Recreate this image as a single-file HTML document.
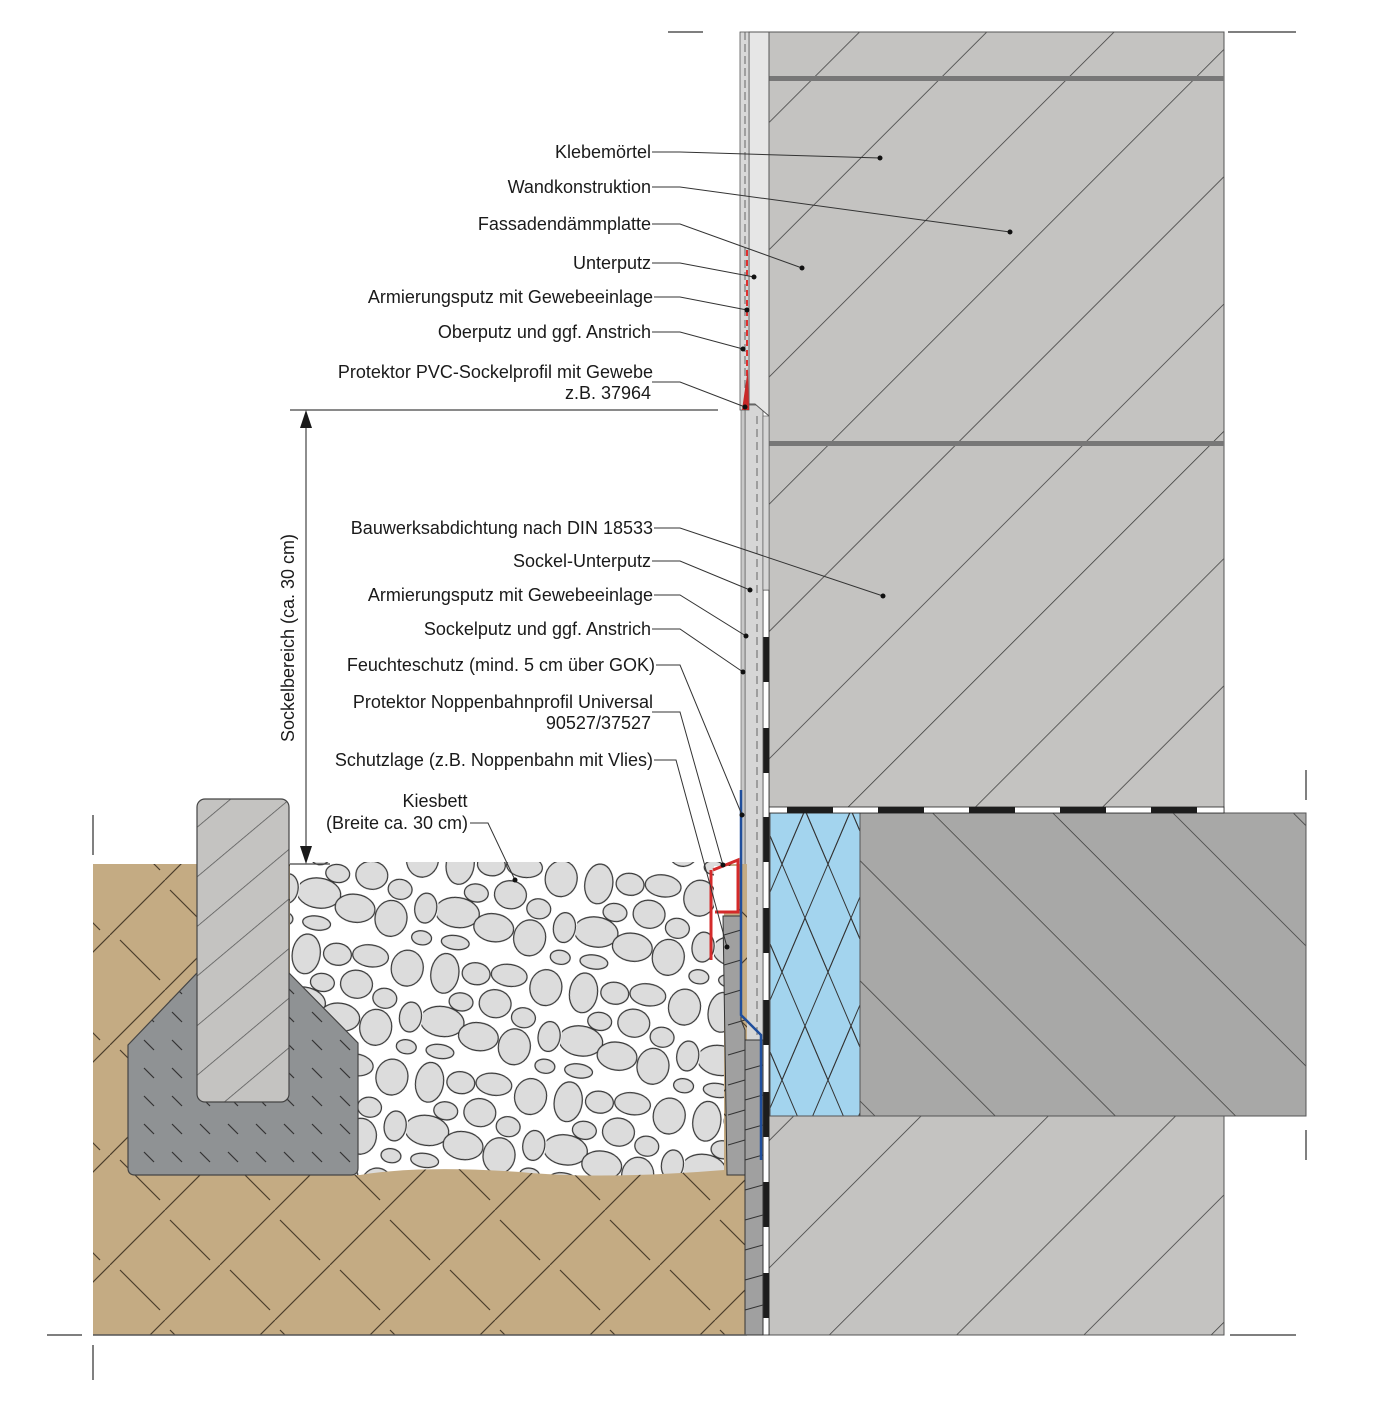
<!DOCTYPE html>
<html><head><meta charset="utf-8"><style>
html,body{margin:0;padding:0;background:#fff}
svg{display:block}
text{font-family:"Liberation Sans",sans-serif;font-size:18px;fill:#1a1a1a}
</style></head><body>
<svg width="1386" height="1401" viewBox="0 0 1386 1401" xmlns="http://www.w3.org/2000/svg">
<defs>
<pattern id="hwall" patternUnits="userSpaceOnUse" width="90" height="90" patternTransform="rotate(-45)">
<rect width="90" height="90" fill="#c4c3c1"/><line x1="0" y1="0" x2="90" y2="0" stroke="#3a3a3a" stroke-width="1.6"/></pattern>
<pattern id="hslab" patternUnits="userSpaceOnUse" width="85" height="85" patternTransform="rotate(45)">
<rect width="85" height="85" fill="#a8a8a7"/><line x1="0" y1="0" x2="85" y2="0" stroke="#3a3a3a" stroke-width="1.4"/></pattern>
<pattern id="hkerb" patternUnits="userSpaceOnUse" width="38" height="38" patternTransform="rotate(-40)">
<rect width="38" height="38" fill="#c4c3c1"/><line x1="0" y1="0" x2="38" y2="0" stroke="#555" stroke-width="1.4"/></pattern>
<pattern id="hconc" patternUnits="userSpaceOnUse" width="28" height="28">
<rect width="28" height="28" fill="#8f9294"/><line x1="4" y1="4" x2="14" y2="14" stroke="#333" stroke-width="1.2"/></pattern>
<pattern id="hsoil" patternUnits="userSpaceOnUse" width="110" height="110">
<rect width="110" height="110" fill="#c4ab83"/>
<line x1="0" y1="55" x2="55" y2="0" stroke="#4a3d2a" stroke-width="1.2"/>
<line x1="55" y1="110" x2="110" y2="55" stroke="#4a3d2a" stroke-width="1.2"/>
<line x1="60" y1="10" x2="100" y2="50" stroke="#4a3d2a" stroke-width="1.2"/>
<line x1="10" y1="60" x2="50" y2="100" stroke="#4a3d2a" stroke-width="1.2"/>
</pattern>
<pattern id="hins" patternUnits="userSpaceOnUse" width="46" height="108">
<rect width="46" height="108" fill="#a3d4ee"/>
<path d="M0 0 L46 108 M46 0 L0 108 M23 -54 L46 0 M0 0 L23 -54 M0 108 L23 162" stroke="#333" stroke-width="1" fill="none"/>
<path d="M-23 54 L0 0 M46 0 L69 54 M0 108 L23 54 L46 108" stroke="#333" stroke-width="1" fill="none"/>
</pattern>
<pattern id="grav" patternUnits="userSpaceOnUse" width="140" height="110" patternTransform="rotate(8)">
<rect width="140" height="110" fill="#fff"/>
<g fill="#dcdcdc" stroke="#333" stroke-width="1.2">
<ellipse cx="16" cy="22" rx="14" ry="20"/><ellipse cx="47" cy="18" rx="14" ry="11"/><ellipse cx="80" cy="15" rx="18" ry="11"/>
<ellipse cx="118" cy="22" rx="16" ry="18"/><ellipse cx="36" cy="48" rx="12" ry="9"/><ellipse cx="70" cy="45" rx="16" ry="14"/>
<ellipse cx="100" cy="55" rx="12" ry="10"/><ellipse cx="20" cy="70" rx="22" ry="15"/><ellipse cx="58" cy="80" rx="20" ry="14"/>
<ellipse cx="95" cy="85" rx="16" ry="18"/><ellipse cx="128" cy="70" rx="11" ry="15"/><ellipse cx="128" cy="100" rx="10" ry="7"/>
<ellipse cx="22" cy="100" rx="14" ry="7"/></g>
</pattern>
</defs>

<rect x="769" y="32" width="455" height="1303" fill="url(#hwall)" stroke="#555"/>
<rect x="769" y="76" width="455" height="5" fill="#777"/>
<rect x="769" y="441" width="455" height="5" fill="#777"/>
<rect x="860" y="813" width="446" height="303" fill="url(#hslab)" stroke="#555"/>
<rect x="770" y="813" width="90" height="303" fill="url(#hins)" stroke="#555"/>
<rect x="769" y="807" width="455" height="6" fill="#fff" stroke="#222" stroke-width="0.8"/>
<g fill="#1d1d1d"><rect x="787" y="807" width="46" height="6"/><rect x="878" y="807" width="46" height="6"/><rect x="969" y="807" width="46" height="6"/><rect x="1060" y="807" width="46" height="6"/><rect x="1151" y="807" width="46" height="6"/></g>
<rect x="763" y="590" width="6" height="745" fill="#fff" stroke="#222" stroke-width="0.8"/>
<g fill="#1d1d1d"><rect x="763" y="637" width="6" height="45"/><rect x="763" y="728" width="6" height="45"/><rect x="763" y="817" width="6" height="45"/><rect x="763" y="908" width="6" height="45"/><rect x="763" y="1000" width="6" height="45"/><rect x="763" y="1092" width="6" height="45"/><rect x="763" y="1182" width="6" height="45"/><rect x="763" y="1273" width="6" height="45"/></g>
<rect x="745" y="405" width="18" height="635" fill="#d6d6d6" stroke="#555" stroke-width="0.8"/>
<rect x="763" y="416" width="6" height="174" fill="#d6d6d6" stroke="#555" stroke-width="0.6"/>
<line x1="757" y1="416" x2="757" y2="1040" stroke="#666" stroke-dasharray="8 5"/>
<rect x="741" y="405" width="4" height="511" fill="#c8c8c8" stroke="#555" stroke-width="0.6"/>
<path d="M749 32 H769 V416 L755 404 H749 Z" fill="#e6e6e6" stroke="#555"/>
<rect x="740" y="32" width="9" height="378" fill="#d8d8d8" stroke="#555" stroke-width="0.8"/>
<line x1="745" y1="32" x2="745" y2="410" stroke="#666" stroke-dasharray="8 4"/>
<line x1="747" y1="250" x2="747" y2="380" stroke="#e03030" stroke-width="2" stroke-dasharray="6 4"/>
<path d="M742 410 L748 368 L749 410 Z" fill="#c82828"/>
<path d="M93 864 H747 V1335 H93 Z" fill="url(#hsoil)"/>
<path d="M290 862 H724 V1170 Q600 1180 520 1172 Q420 1165 360 1175 L290 1175 Z" fill="url(#grav)"/>
<path d="M128 1045 L197 973 H289 L358 1043 V1168 Q358 1175 351 1175 H135 Q128 1175 128 1168 Z" fill="url(#hconc)" stroke="#444" stroke-width="1.2"/>
<rect x="197" y="799" width="92" height="303" rx="8" fill="url(#hkerb)" stroke="#444" stroke-width="1.2"/>
<path d="M723 916 H741 V1020 L745 1030 V1175 H727 Z" fill="#a0a0a0" stroke="#333"/>
<rect x="745" y="1040" width="18" height="295" fill="#a0a0a0" stroke="#333"/>
<g stroke="#333" stroke-width="1">
<line x1="724" y1="935" x2="741" y2="930"/><line x1="724" y1="965" x2="741" y2="960"/><line x1="724" y1="995" x2="741" y2="990"/><line x1="728" y1="1025" x2="745" y2="1020"/><line x1="728" y1="1055" x2="745" y2="1050"/><line x1="728" y1="1085" x2="745" y2="1080"/><line x1="728" y1="1115" x2="745" y2="1110"/><line x1="728" y1="1145" x2="745" y2="1140"/>
<line x1="745" y1="1070" x2="763" y2="1065"/><line x1="745" y1="1100" x2="763" y2="1095"/><line x1="745" y1="1130" x2="763" y2="1125"/><line x1="745" y1="1160" x2="763" y2="1155"/><line x1="745" y1="1190" x2="763" y2="1185"/><line x1="745" y1="1220" x2="763" y2="1215"/><line x1="745" y1="1250" x2="763" y2="1245"/><line x1="745" y1="1280" x2="763" y2="1275"/><line x1="745" y1="1310" x2="763" y2="1305"/>
</g>
<path d="M741 790 V1015 L761 1035 V1160" fill="none" stroke="#1f4e9c" stroke-width="2.5"/>
<rect x="714" y="866" width="24" height="46" fill="#fff"/>
<path d="M713 870 L738 860 L738 912 L715 912 M711 870 V960" fill="none" stroke="#d42a2a" stroke-width="3"/>
<g stroke="#444" stroke-width="1.2" fill="none">
<line x1="290" y1="410" x2="718" y2="410"/><line x1="290" y1="864" x2="330" y2="864"/>
<line x1="306" y1="428" x2="306" y2="846"/></g>
<path d="M300 428 L306 410 L312 428 Z M300 846 L306 864 L312 846 Z" fill="#1a1a1a"/>
<text transform="translate(294,638) rotate(-90)" text-anchor="middle">Sockelbereich (ca. 30 cm)</text>
<g stroke="#555" stroke-width="1.5">
<line x1="668" y1="32" x2="703" y2="32"/><line x1="1228" y1="32" x2="1296" y2="32"/>
<line x1="47" y1="1335" x2="82" y2="1335"/><line x1="93" y1="1335" x2="747" y2="1335"/><line x1="1230" y1="1335" x2="1296" y2="1335"/>
<line x1="93" y1="815" x2="93" y2="855"/><line x1="93" y1="1345" x2="93" y2="1380"/>
<line x1="1306" y1="770" x2="1306" y2="800"/><line x1="1306" y1="1130" x2="1306" y2="1160"/>
</g>
<g text-anchor="end">
<text x="651" y="158">Klebemörtel</text>
<text x="651" y="193">Wandkonstruktion</text>
<text x="651" y="230">Fassadendämmplatte</text>
<text x="651" y="269">Unterputz</text>
<text x="653" y="303">Armierungsputz mit Gewebeeinlage</text>
<text x="651" y="338">Oberputz und ggf. Anstrich</text>
<text x="653" y="378">Protektor PVC-Sockelprofil mit Gewebe</text>
<text x="651" y="399">z.B. 37964</text>
<text x="653" y="534">Bauwerksabdichtung nach DIN 18533</text>
<text x="651" y="567">Sockel-Unterputz</text>
<text x="653" y="601">Armierungsputz mit Gewebeeinlage</text>
<text x="651" y="635">Sockelputz und ggf. Anstrich</text>
<text x="655" y="671">Feuchteschutz (mind. 5 cm über GOK)</text>
<text x="653" y="708">Protektor Noppenbahnprofil Universal</text>
<text x="651" y="729">90527/37527</text>
<text x="653" y="766">Schutzlage (z.B. Noppenbahn mit Vlies)</text>
</g>
<text x="435" y="807" text-anchor="middle">Kiesbett</text>
<text x="397" y="829" text-anchor="middle">(Breite ca. 30 cm)</text>
<g stroke="#333" stroke-width="1" fill="none">
<path d="M652 152 H680 L880 158"/>
<path d="M652 187 H680 L1010 232"/>
<path d="M652 224 H680 L802 268"/>
<path d="M652 263 H680 L754 277"/>
<path d="M654 297 H680 L747 310"/>
<path d="M652 332 H680 L743 349"/>
<path d="M652 382 H680 L745 407"/>
<path d="M654 528 H680 L883 596"/>
<path d="M652 561 H680 L750 590"/>
<path d="M654 595 H680 L746 636"/>
<path d="M652 629 H680 L743 672"/>
<path d="M656 665 H680 L742 815"/>
<path d="M652 712 H680 L723 865"/>
<path d="M654 760 H676 L727 947"/>
<path d="M470 823 H488 L515 880"/>
</g>
<g fill="#111">
<circle cx="880" cy="158" r="2.5"/><circle cx="1010" cy="232" r="2.5"/><circle cx="802" cy="268" r="2.5"/><circle cx="754" cy="277" r="2.5"/><circle cx="747" cy="310" r="2.5"/><circle cx="743" cy="349" r="2.5"/><circle cx="745" cy="407" r="2.5"/><circle cx="883" cy="596" r="2.5"/><circle cx="750" cy="590" r="2.5"/><circle cx="746" cy="636" r="2.5"/><circle cx="743" cy="672" r="2.5"/><circle cx="742" cy="815" r="2.5"/><circle cx="723" cy="865" r="2.5"/><circle cx="727" cy="947" r="2.5"/><circle cx="515" cy="880" r="2.5"/>
</g>
</svg>
</body></html>
